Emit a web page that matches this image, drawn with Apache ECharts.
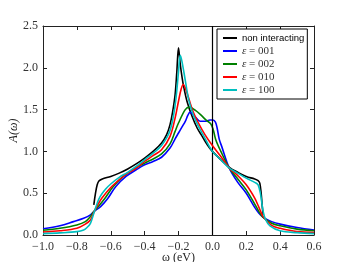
<!DOCTYPE html>
<html><head><meta charset="utf-8">
<script src="https://cdn.jsdelivr.net/npm/echarts@6/dist/echarts.min.js"></script>
<style>html,body{margin:0;padding:0;background:#fff}#c{width:349px;height:262px}</style>
</head><body><div id="c"></div>
<script>
const seriesNames = ['non interacting', 'ε = 001', 'ε = 002', 'ε = 010', 'ε = 100'];
const xTicks = [-1.0, -0.8, -0.6, -0.4, -0.2, 0.0, 0.2, 0.4, 0.6];
const yTicks = [0.0, 0.5, 1.0, 1.5, 2.0, 2.5];

const blackX = [-0.70,-0.69,-0.68,-0.67,-0.65,-0.6,-0.55,-0.5,-0.45,-0.4,-0.35,-0.3,-0.27,-0.25,-0.235,-0.22,-0.21,-0.2,-0.19,-0.18,-0.17,-0.15,-0.12,-0.09,-0.06,-0.03,0.0,0.05,0.1,0.15,0.2,0.25,0.27,0.28,0.288,0.295,0.3];
const blackY = [0.36,0.50,0.60,0.645,0.67,0.70,0.74,0.79,0.85,0.92,1.0,1.1,1.2,1.32,1.47,1.68,1.95,2.24,2.05,1.9,1.78,1.6,1.42,1.28,1.18,1.08,1.0,0.9,0.81,0.75,0.7,0.67,0.65,0.62,0.5,0.33,0.24];

const blueX = [-1.0,-0.9,-0.82,-0.76,-0.72,-0.7,-0.66,-0.62,-0.57,-0.51,-0.45,-0.4,-0.35,-0.3,-0.25,-0.22,-0.2,-0.18,-0.16,-0.145,-0.132,-0.115,-0.1,-0.073,-0.044,-0.014,0.004,0.018,0.028,0.04,0.055,0.1,0.15,0.2,0.25,0.275,0.3,0.35,0.4,0.5,0.6];
const blueY = [0.075,0.11,0.16,0.2,0.24,0.28,0.34,0.43,0.58,0.7,0.78,0.84,0.88,0.93,1.04,1.15,1.22,1.29,1.36,1.43,1.47,1.44,1.41,1.36,1.36,1.375,1.375,1.35,1.28,1.15,1.06,0.8,0.63,0.5,0.33,0.26,0.21,0.16,0.13,0.09,0.06];

const greenX = [-1.0,-0.9,-0.8,-0.75,-0.72,-0.7,-0.67,-0.634,-0.585,-0.526,-0.47,-0.4,-0.35,-0.3,-0.25,-0.22,-0.2,-0.16,-0.136,-0.1,-0.07,-0.04,-0.01,0.005,0.02,0.05,0.1,0.15,0.2,0.25,0.275,0.3,0.35,0.4,0.5,0.6];
const greenY = [0.056,0.08,0.12,0.16,0.22,0.28,0.35,0.44,0.58,0.7,0.78,0.86,0.91,0.97,1.09,1.24,1.34,1.5,1.53,1.49,1.44,1.38,1.33,1.26,1.14,1.0,0.8,0.67,0.54,0.37,0.28,0.21,0.14,0.11,0.07,0.05];

const redX = [-1.0,-0.9,-0.8,-0.75,-0.72,-0.7,-0.68,-0.653,-0.604,-0.545,-0.5,-0.45,-0.4,-0.35,-0.3,-0.25,-0.22,-0.2,-0.185,-0.172,-0.16,-0.142,-0.113,-0.083,-0.044,0.0,0.05,0.1,0.15,0.2,0.25,0.275,0.3,0.35,0.4,0.5,0.6];
const redY = [0.036,0.05,0.08,0.13,0.18,0.27,0.35,0.44,0.56,0.67,0.74,0.8,0.88,0.95,1.02,1.18,1.4,1.6,1.74,1.8,1.76,1.65,1.47,1.34,1.2,1.07,0.94,0.8,0.71,0.6,0.44,0.33,0.22,0.115,0.08,0.04,0.03];

const cyanX = [-1.0,-0.9,-0.8,-0.76,-0.74,-0.72,-0.7,-0.68,-0.663,-0.63,-0.6,-0.55,-0.5,-0.45,-0.4,-0.35,-0.3,-0.25,-0.22,-0.2,-0.19,-0.18,-0.16,-0.14,-0.11,-0.08,-0.05,0.0,0.05,0.1,0.15,0.2,0.25,0.27,0.285,0.3,0.315,0.34,0.4,0.5,0.6];
const cyanY = [0.016,0.025,0.04,0.06,0.09,0.14,0.26,0.38,0.46,0.55,0.61,0.69,0.75,0.82,0.9,0.98,1.07,1.25,1.55,1.95,2.15,2.08,1.85,1.62,1.42,1.29,1.18,1.0,0.9,0.8,0.74,0.68,0.63,0.6,0.48,0.28,0.18,0.11,0.05,0.028,0.016];

const colors = ['#000000', '#0000ff', '#008000', '#ff0000', '#00bfbf'];
const xsAll = [blackX, blueX, greenX, redX, cyanX];
const ysAll = [blackY, blueY, greenY, redY, cyanY];

const serif = 'Liberation Serif';
const tickFont = {fontFamily: serif, fontSize: 12, color: '#333'};
const fmtNum = v => (Math.round(v * 10) / 10).toFixed(1).replace('-', '\u2212');

const series = seriesNames.map((name, k) => {
  const s = {
    name: name, type: 'line', xAxisIndex: 0, yAxisIndex: 0,
    data: xsAll[k].map((x, i) => [x, ysAll[k][i]]),
    showSymbol: false, symbol: 'none', smooth: 0.35,
    lineStyle: {color: colors[k], width: 1.6}, itemStyle: {color: colors[k]},
    z: 2 + k, animation: false
  };
  if (k === 0) {
    s.markLine = {silent: true, symbol: 'none', label: {show: false},
      lineStyle: {color: '#000', width: 1.2, type: 'solid'},
      data: [{xAxis: 0}], animation: false};
  }
  return s;
});

const axisLineStyle = {onZero: false, show: true, lineStyle: {color: '#222', width: 1}};
const tickStyle = {show: true, inside: true, length: 4, lineStyle: {color: '#222'}};

const chart = echarts.init(document.getElementById('c'), null, {renderer: 'canvas'});
chart.setOption({
  backgroundColor: '#fff',
  animation: false,
  grid: {left: 43, right: 35, top: 26, bottom: 27, containLabel: false, outerBoundsMode: 'none'},
  legend: {
    orient: 'vertical', left: 217, top: 29,
    data: seriesNames,
    backgroundColor: '#fff', borderColor: '#000', borderWidth: 1, borderRadius: 0,
    padding: [3, 3, 3, 6], itemGap: 1, itemWidth: 14, itemHeight: 2, icon: 'rect',
    textStyle: {fontFamily: 'Liberation Sans', fontSize: 9.5, color: '#000', lineHeight: 12,
      rich: {e: {fontFamily: serif, fontStyle: 'italic', fontSize: 11, color: '#333'},
             s: {fontFamily: serif, fontSize: 11, color: '#333'}}},
    formatter: n => n.startsWith('ε') ? '{e|ε}{s| ' + n.slice(2) + '}' : n
  },
  xAxis: [{
    type: 'value', min: xTicks[0], max: xTicks[xTicks.length - 1], interval: 0.2,
    position: 'bottom', axisLine: axisLineStyle, axisTick: tickStyle,
    axisLabel: Object.assign({margin: 6, formatter: fmtNum}, tickFont),
    splitLine: {show: false},
    name: 'ω (eV)', nameLocation: 'middle', nameGap: 17, nameMoveOverlap: false,
    nameTextStyle: {fontFamily: serif, fontSize: 12, color: '#222'}
  }, {
    type: 'value', min: xTicks[0], max: xTicks[xTicks.length - 1], interval: 0.2,
    position: 'top', axisLine: axisLineStyle, axisTick: tickStyle,
    axisLabel: {show: false}, splitLine: {show: false}
  }],
  yAxis: [{
    type: 'value', min: yTicks[0], max: yTicks[yTicks.length - 1], interval: 0.5,
    position: 'left', axisLine: axisLineStyle, axisTick: tickStyle,
    axisLabel: Object.assign({margin: 5, formatter: fmtNum}, tickFont),
    splitLine: {show: false},
    name: 'A(ω)', nameLocation: 'middle', nameGap: 23, nameRotate: 90, nameMoveOverlap: false,
    nameTextStyle: {fontFamily: serif, fontStyle: 'italic', fontSize: 12, color: '#222'}
  }, {
    type: 'value', min: yTicks[0], max: yTicks[yTicks.length - 1], interval: 0.5,
    position: 'right', axisLine: axisLineStyle, axisTick: tickStyle,
    axisLabel: {show: false}, splitLine: {show: false}
  }],
  series: series
});
</script></body></html>
